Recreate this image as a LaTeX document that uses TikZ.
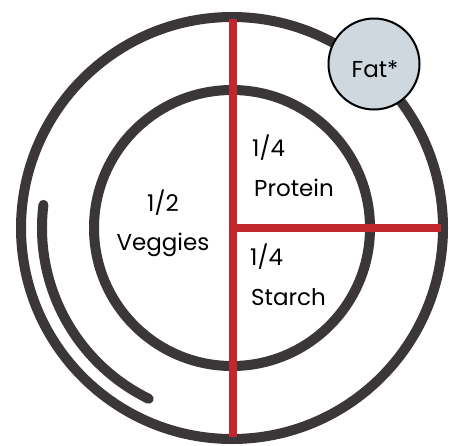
\documentclass[tikz,border=0pt]{standalone}
\usepackage{fontspec}
\setmainfont{Poppins}
\definecolor{plate}{HTML}{3B3738}
\definecolor{divider}{HTML}{C1272D}
\definecolor{fatfill}{HTML}{CFD8DE}
\tikzset{
  ring/.style={draw=plate, line width=10pt},
  divline/.style={draw=divider, line width=8pt},
  label/.style={inner sep=0pt, font=\fontsize{23}{28}\selectfont, text=black},
}
\begin{document}
\begin{tikzpicture}[x=1pt,y=-1pt]
\useasboundingbox (0,0) rectangle (449,445);
\coordinate (c) at (232,228);
\draw[ring] (c) circle[radius=211];
\draw[ring] (c) circle[radius=138];
\draw[ring, line cap=round] (c) ++(-173:190) arc[start angle=-173, end angle=-244, radius=190];
\coordinate (vtop) at (233,19);
\coordinate (vbot) at (233,437);
\coordinate (hleft) at (229,228);
\coordinate (hright) at (441,228);
\draw[divline] (vtop) -- (vbot);
\draw[divline] (hleft) -- (hright);
\node[circle, draw=black, line width=2pt, fill=fatfill, minimum size=91pt, inner sep=0pt] (fat) at (374,64) {};
\node[label, anchor=base] (fattxt) at (375,77) {Fat*};
\node[label, anchor=base] (half) at (163,211) {1/2};
\node[label, anchor=base] (veg) at (163,250) {Veggies};
\node[label, anchor=base west] (q1) at (252,156) {1/4};
\node[label, anchor=base west] (prot) at (254,196) {Protein};
\node[label, anchor=base west] (q2) at (250,265) {1/4};
\node[label, anchor=base west] (starch) at (251,305) {Starch};
\end{tikzpicture}
\end{document}
